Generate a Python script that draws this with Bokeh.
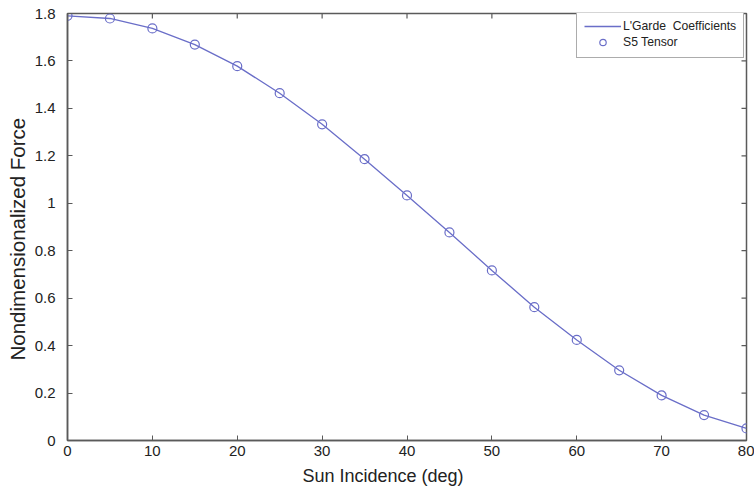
import math
from bokeh.plotting import figure
from bokeh.models import FixedTicker, Legend, LegendItem, Title
from bokeh.embed import file_html
from bokeh.resources import INLINE

# Data
sun_incidence = [0, 5, 10, 15, 20, 25, 30, 35, 40, 45, 50, 55, 60, 65, 70, 75, 80]
lgarde_force = [1.790, 1.779, 1.737, 1.669, 1.578, 1.464, 1.333, 1.186, 1.033,
                0.877, 0.717, 0.562, 0.424, 0.296, 0.190, 0.107, 0.051]
s5_force = [1.790, 1.779, 1.737, 1.669, 1.578, 1.464, 1.333, 1.186, 1.033,
            0.877, 0.717, 0.562, 0.424, 0.296, 0.190, 0.107, 0.051]

x_ticks = [0, 10, 20, 30, 40, 50, 60, 70, 80]
y_ticks = [0, 0.2, 0.4, 0.6, 0.8, 1.0, 1.2, 1.4, 1.6, 1.8]
y_tick_labels = ["0", "0.2", "0.4", "0.6", "0.8", "1", "1.2", "1.4", "1.6", "1.8"]
x_title = "Sun Incidence (deg)"
y_title = "Nondimensionalized Force"

FONT = "Liberation Sans"
AXIS_COLOR = "#5a5a5a"
TEXT_COLOR = "#222222"
LINE_COLOR = "#6a6ec8"

p = figure(width=754, height=490, x_range=(0, 80), y_range=(0, 1.8),
           output_backend="svg", toolbar_location=None,
           min_border_left=67, min_border_right=8, min_border_top=13, min_border_bottom=50)
p.grid.visible = False
p.outline_line_color = AXIS_COLOR
p.outline_line_width = 1.5
p.background_fill_color = "white"
p.border_fill_color = "white"

for ax in (p.xaxis[0], p.yaxis[0]):
    ax.axis_line_color = AXIS_COLOR
    ax.axis_line_width = 1.5
    ax.major_tick_line_color = AXIS_COLOR
    ax.major_tick_in = 5
    ax.major_tick_out = 0
    ax.minor_tick_line_color = None
    ax.major_label_text_font = FONT
    ax.major_label_text_font_size = "15px"
    ax.major_label_text_color = TEXT_COLOR

p.xaxis[0].ticker = FixedTicker(ticks=x_ticks)
p.yaxis[0].ticker = FixedTicker(ticks=y_ticks)
p.yaxis[0].major_label_overrides = dict(zip(y_ticks, y_tick_labels))
p.xaxis[0].major_label_standoff = 5
p.yaxis[0].major_label_standoff = 12

# inward ticks on the top and right edges of the box
p.ray(x=x_ticks, y=y_ticks[-1], length=5, angle=-math.pi / 2, length_units="screen",
      line_color=AXIS_COLOR, line_width=1.2)
p.ray(x=x_ticks[-1], y=y_ticks, length=5, angle=math.pi, length_units="screen",
      line_color=AXIS_COLOR, line_width=1.2)

line_r = p.line(sun_incidence, lgarde_force, line_color=LINE_COLOR, line_width=1.3)
circ_r = p.scatter(sun_incidence, s5_force, marker="circle", size=9, fill_color=None,
                   line_color=LINE_COLOR, line_width=1.2)

# axis titles, placed slightly off-centre as in the reference
p.add_layout(Title(text=x_title, align="left", offset=235, vertical_align="bottom",
                   standoff=10, text_font=FONT, text_font_size="18px",
                   text_font_style="normal", text_color=TEXT_COLOR), "below")
p.add_layout(Title(text=y_title, align="left", offset=80, vertical_align="bottom",
                   standoff=6, text_font=FONT, text_font_size="20.5px",
                   text_font_style="normal", text_color=TEXT_COLOR), "left")

legend = Legend(items=[LegendItem(label="L'Garde  Coefficients", renderers=[line_r]),
                       LegendItem(label="S5 Tensor", renderers=[circ_r])],
                location=(509, 382), orientation="vertical")
legend.label_text_font = FONT
legend.label_text_font_size = "12.2px"
legend.label_text_color = TEXT_COLOR
legend.glyph_width = 37
legend.glyph_height = 16
legend.label_height = 16
legend.label_standoff = 2
legend.spacing = 0
legend.padding = 7
legend.margin = 0
legend.border_line_color = AXIS_COLOR
legend.border_line_width = 1.2
legend.background_fill_color = "white"
legend.background_fill_alpha = 1
p.add_layout(legend, "center")

open("out.html", "w").write(file_html(p, INLINE))
